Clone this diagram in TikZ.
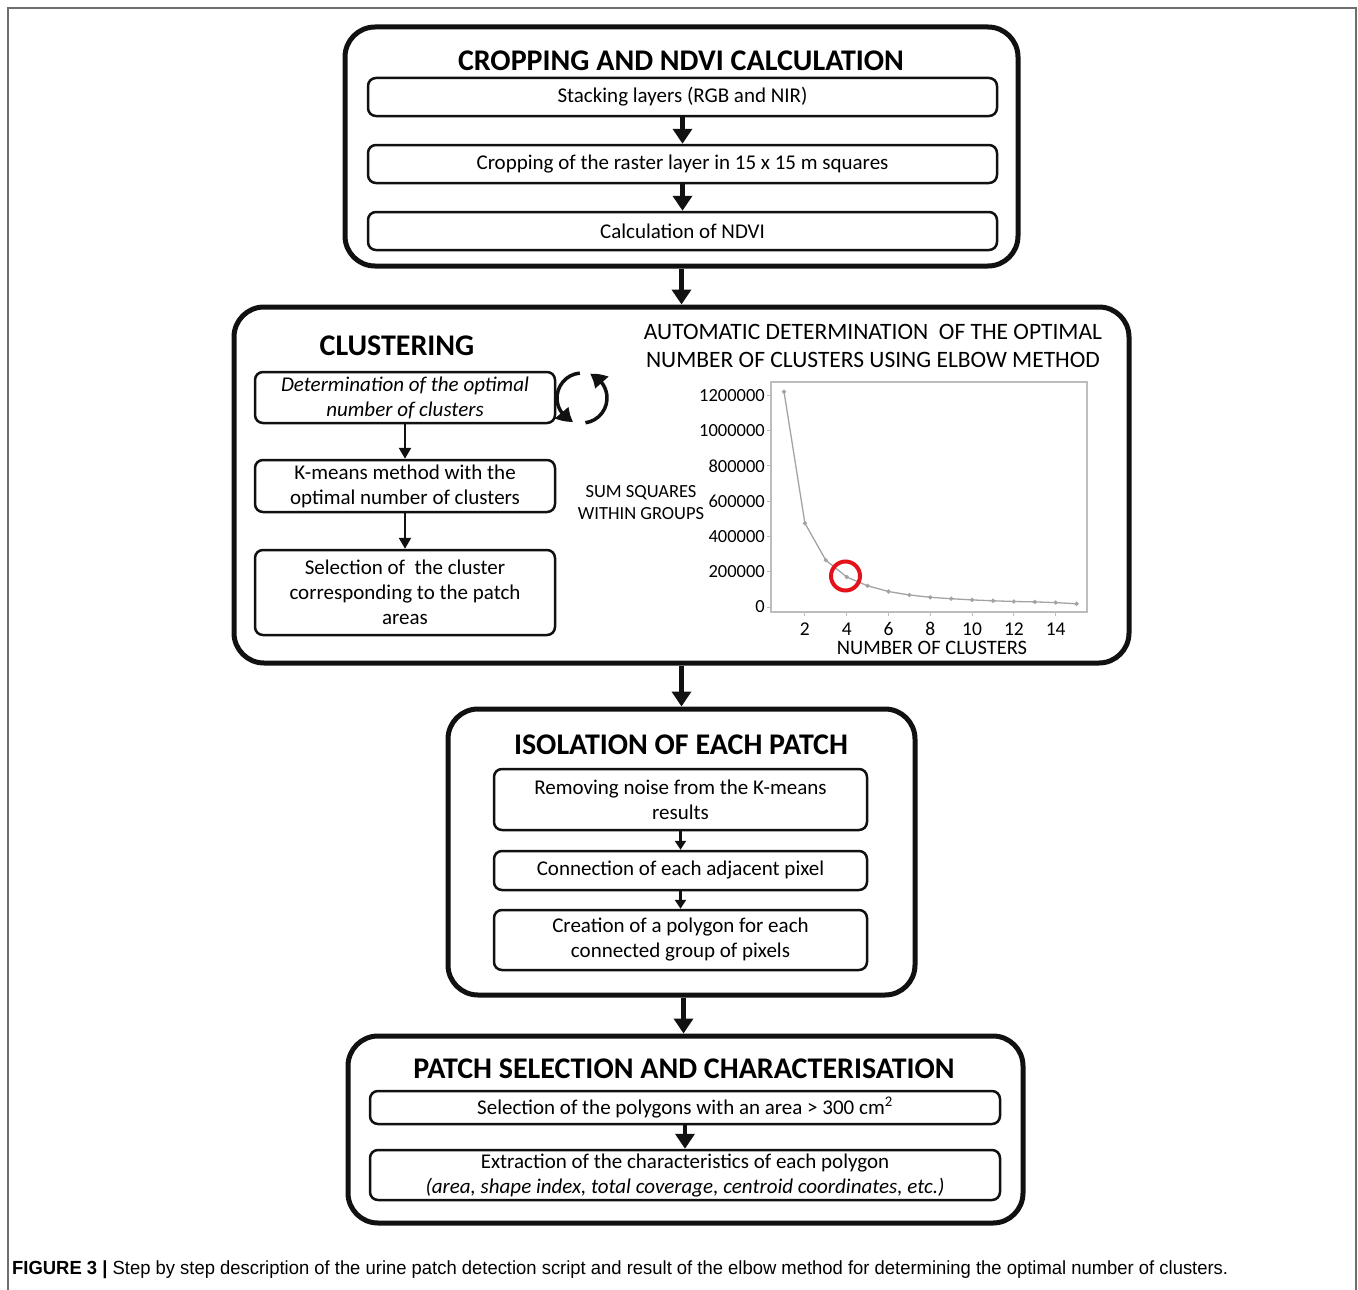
\documentclass[tikz,border=0pt]{standalone}
\usepackage{fontspec}
\setmainfont{Carlito}
\newfontfamily\capfont[FakeStretch=0.97]{Liberation Sans}
\usetikzlibrary{arrows.meta, calc, bending}
\definecolor{inkBlack}{HTML}{111111}
\definecolor{frameGrey}{HTML}{6E6E6E}
\definecolor{axisGrey}{HTML}{BDBDBD}
\definecolor{curveGrey}{HTML}{A3A3A3}
\definecolor{elbowRed}{HTML}{E3121B}
\tikzset{
  stage/.style   = {draw=inkBlack, line width=5pt, rounded corners=30pt},
  stepbox/.style = {draw=inkBlack, line width=2.5pt, rounded corners=8pt, align=center,
                    font=\fontsize{21}{25}\selectfont, inner sep=0pt},
  ttl/.style     = {font=\fontsize{30}{36}\selectfont\bfseries, inner sep=0pt},
  fl/.style      = {-{Triangle[length=15pt,width=19pt]}, line width=4.5pt, draw=inkBlack},
  fls/.style     = {-{Triangle[length=11pt,width=12pt]}, line width=2.5pt, draw=inkBlack},
  cyc/.style     = {-{Triangle[length=15pt,width=17pt,bend]}, line width=3.5pt, draw=inkBlack},
  lbl/.style     = {font=\fontsize{18.5}{21.5}\selectfont, inner sep=0pt, align=center},
  curve/.style   = {draw=curveGrey, line width=1.3pt}
}

\begin{document}
\begin{tikzpicture}[x=1pt, y=-1pt]
  \useasboundingbox (0,0) rectangle (1358,1290);
  \draw[frameGrey, line width=1.5pt] (8,1290) -- (8,8) -- (1356,8) -- (1356,1290);

  % --- cropping and ndvi
  \node[stage, minimum width=673pt, minimum height=239pt] (s1) at (681.5,146.5) {};
  \node[ttl] (t1) at (681,61) {CROPPING AND NDVI CALCULATION};
  \node[stepbox, minimum width=629pt, minimum height=38pt] (stack) at (682.5,97) {Stacking layers (RGB and NIR)};
  \node[stepbox, minimum width=629pt, minimum height=38pt] (crop) at (682.5,164) {Cropping of the raster layer in 15 x 15 m squares};
  \node[stepbox, minimum width=629pt, minimum height=38pt] (ndvi) at (682.5,231) {Calculation of NDVI};
  \draw[fl] (stack) -- (crop);
  \draw[fl] (crop) -- (ndvi);

  % --- clustering
  \node[stage, minimum width=895pt, minimum height=356pt] (s2) at (681.5,485) {};
  \node[ttl] (t2) at (397,346) {CLUSTERING};
  \node[stepbox, minimum width=300pt, minimum height=51pt] (optk) at (405,397.5)
       {\itshape Determination of the optimal\\ \itshape number of clusters};
  \node[stepbox, minimum width=300pt, minimum height=52pt] (kmean) at (405,486)
       {K-means method with the\\ optimal number of clusters};
  \node[stepbox, minimum width=300pt, minimum height=85pt] (pick) at (405,592.5)
       {Selection of\ \ the cluster\\ corresponding to the patch\\ areas};
  \draw[fls] (optk) -- (kmean);
  \draw[fls] (kmean) -- (pick);
  \coordinate (loop) at (582,398);
  \begin{scope}[y=1pt]
    \draw[cyc] ($(loop)+(95:25pt)$) arc[start angle=95, end angle=250, radius=25pt];
    \draw[cyc] ($(loop)+(-82:25pt)$) arc[start angle=-82, end angle=72, radius=25pt];
  \end{scope}

  % --- elbow chart
  \node[font=\fontsize{23.5}{28}\selectfont, align=center, inner sep=0pt] (ctitle) at (873,346)
       {AUTOMATIC DETERMINATION\ \ OF THE OPTIMAL\\ NUMBER OF CLUSTERS USING ELBOW METHOD};
  \draw[axisGrey, line width=1.2pt] (771,382) rectangle (1087,612);
  \foreach \v/\lab in {0/0, 2/200000, 4/400000, 6/600000, 8/800000, 10/1000000, 12/1200000} {
    \draw[axisGrey, line width=1pt] (771,{607-17.65*\v}) -- ++(-4,0);
    \node[lbl, anchor=east] (yt\v) at (765,{607-17.65*\v}) {\lab};
  }
  \foreach \k in {2,4,...,14} {
    \draw[axisGrey, line width=1pt] ({763.1+20.9*\k},612) -- ++(0,4);
    \node[lbl, font=\fontsize{19.5}{22}\selectfont] (xt\k) at ({763.1+20.9*\k},629) {\k};
  }
  \node[lbl] (ylab) at (641,502.5) {SUM SQUARES\\ WITHIN GROUPS};
  \node[lbl, font=\fontsize{20.5}{22}\selectfont] (xlab) at (932,648) {NUMBER OF CLUSTERS};
  \draw[curve] plot[mark=*, mark size=1.4pt, mark options={fill=curveGrey}] coordinates {
    (784.0,391.7) (804.9,523.2) (825.8,560.2) (846.7,577.0) (867.6,585.8)
    (888.5,591.5) (909.4,595.0) (930.3,597.3) (951.2,598.7) (972.1,599.9)
    (993.0,600.8) (1013.9,601.5) (1034.8,601.9) (1055.7,602.6) (1076.6,603.8)};
  \node[circle, draw=elbowRed, line width=4pt, minimum size=29pt, inner sep=0pt] (elbow) at (845.5,576) {};

  % --- isolation of each patch
  \node[stage, minimum width=467pt, minimum height=286pt] (s3) at (681.5,852) {};
  \node[ttl] (t3) at (681,745) {ISOLATION OF EACH PATCH};
  \node[stepbox, minimum width=373pt, minimum height=61pt] (noise) at (680.5,799.5)
       {Removing noise from the K-means\\ results};
  \node[stepbox, minimum width=373pt, minimum height=39pt] (adj) at (680.5,870.5)
       {Connection of each adjacent pixel};
  \node[stepbox, minimum width=373pt, minimum height=60pt] (poly) at (680.5,940)
       {Creation of a polygon for each\\ connected group of pixels};
  \draw[fls, -{Triangle[length=9pt,width=11pt]}] (noise) -- (adj);
  \draw[fls, -{Triangle[length=9pt,width=11pt]}] (adj) -- (poly);

  % --- patch selection
  \node[stage, minimum width=675pt, minimum height=187pt] (s4) at (685.5,1129.5) {};
  \node[ttl] (t4) at (684,1069) {PATCH SELECTION AND CHARACTERISATION};
  \node[stepbox, minimum width=630pt, minimum height=33pt] (area) at (685,1107.5)
       {Selection of the polygons with an area > 300 cm\textsuperscript{2}};
  \node[stepbox, minimum width=630pt, minimum height=50pt] (chars) at (685,1175)
       {Extraction of the characteristics of each polygon\\ \itshape (area, shape index, total coverage, centroid coordinates, etc.)};
  \draw[fl] (area) -- (chars);

  % --- stage to stage
  \draw[fl] (s1) -- (s2);
  \draw[fl] (s2.south) -- (s2.south |- s3.north);
  \draw[fl] (s3.south) ++(2,0) coordinate (s3out) -- (s3out |- s4.north);

  \node[anchor=base west, inner sep=0pt, font=\capfont\fontsize{19}{22}\selectfont] (cap) at (12,1274)
       {\textbf{FIGURE 3 |} Step by step description of the urine patch detection script and result of the elbow method for determining the optimal number of clusters.};
\end{tikzpicture}
\end{document}
